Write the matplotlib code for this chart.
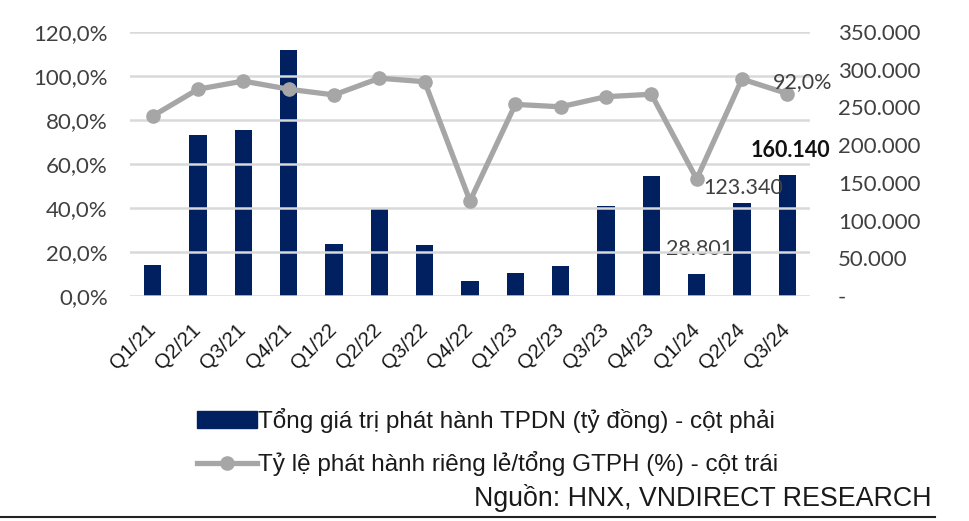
import matplotlib.pyplot as plt
import numpy as np
from matplotlib.lines import Line2D
from matplotlib.ticker import FuncFormatter
from matplotlib.transforms import ScaledTranslation

quarters = ["Q1/21", "Q2/21", "Q3/21", "Q4/21", "Q1/22", "Q2/22", "Q3/22", "Q4/22",
            "Q1/23", "Q2/23", "Q3/23", "Q4/23", "Q1/24", "Q2/24", "Q3/24"]
# total issuance value (ty dong) - right axis
issuance = [41000, 214000, 219600, 326200, 69600, 116200, 67400, 19400,
            30000, 40000, 119300, 158900, 28801, 123340, 160140]
# private placement share (%) - left axis
private_share = [81.8, 94.0, 97.7, 94.0, 91.4, 99.0, 97.4, 43.2,
                 87.1, 86.0, 90.6, 91.7, 53.2, 98.6, 92.0]

bar_label = "Tổng giá trị phát hành TPDN (tỷ đồng) - cột phải"
line_label = "Tỷ lệ phát hành riêng lẻ/tổng GTPH (%) - cột trái"
source = "Nguồn: HNX, VNDIRECT RESEARCH"

NAVY = "#002060"
GREY = "#A6A6A6"
TXT = "#404040"

plt.rcParams['font.family'] = ['Lato', 'DejaVu Sans']

fig = plt.figure(figsize=(9.69, 5.21), dpi=100)
ax = fig.add_axes([130 / 969, 1 - 296 / 521, 680 / 969, 264 / 521])
ax2 = ax.twinx()

x = np.arange(len(quarters))

# bars on right axis, line on left axis (line drawn on top)
ax2.bar(x, issuance, width=0.38, color=NAVY, zorder=2)
ax.set_zorder(ax2.get_zorder() + 1)
ax.patch.set_visible(False)
ax.plot(x, private_share, '-o', color=GREY, lw=3.8, ms=9.5, zorder=3)

ax.set_xlim(-0.5, len(quarters) - 0.5)
ax.set_ylim(0, 120)
ax2.set_ylim(0, 350000)
ax.set_yticks(np.arange(0, 121, 20))
ax2.set_yticks(np.arange(0, 350001, 50000))
ax.yaxis.set_major_formatter(FuncFormatter(lambda v, p: f"{v:.1f}%".replace(".", ",")))
ax2.yaxis.set_major_formatter(FuncFormatter(
    lambda v, p: "-" if v == 0 else f"{int(v):,}".replace(",", ".")))

ax.grid(axis='y', color='#D9D9D9', lw=1.8, zorder=0)
for a in (ax, ax2):
    for s in a.spines.values():
        s.set_visible(False)
    a.tick_params(length=0)
ax.tick_params(axis='y', labelsize=16, labelcolor=TXT, pad=16)
ax2.tick_params(axis='y', labelsize=16, labelcolor=TXT, pad=20)

ax.set_xticks(x)
ax.set_xticklabels(quarters, rotation=45, ha='right', rotation_mode='anchor',
                   fontsize=14.8, family='Liberation Sans', color='#1a1a1a')
ax.tick_params(axis='x', pad=12)
shift = ScaledTranslation(-5 / 72, -5 / 72, fig.dpi_scale_trans)
for lbl in ax.get_xticklabels():
    lbl.set_transform(lbl.get_transform() + shift)

# data labels
ax.annotate("92,0%", (x[-1], private_share[-1]), xytext=(11, 8), textcoords='offset points',
            ha='center', va='center', fontsize=15.5, color=TXT)
ax2.annotate(f"{issuance[-1]:,}".replace(",", "."), (x[-1], issuance[-1]), xytext=(2, 18),
             textcoords='offset points', ha='center', va='center', fontsize=15.5,
             fontweight='bold', color='#111111')
ax2.annotate(f"{issuance[-2]:,}".replace(",", "."), (x[-2], issuance[-2]), xytext=(1, 11),
             textcoords='offset points', ha='center', va='center', fontsize=15.5, color=TXT)
ax2.annotate(f"{issuance[-3]:,}".replace(",", "."), (x[-3], issuance[-3]), xytext=(2, 18),
             textcoords='offset points', ha='center', va='center', fontsize=15.5, color=TXT)

# legend
handles = [plt.Rectangle((0, 0), 1, 1, color=NAVY),
           Line2D([], [], color=GREY, lw=3.8, marker='o', ms=9.5)]
fig.legend(handles, [bar_label, line_label], loc='upper left',
           bbox_to_anchor=(175 / 969, 1 - 386 / 521), frameon=False,
           prop={'family': 'Liberation Sans', 'size': 17.5}, handlelength=2.47,
           handletextpad=0.05, labelspacing=0.76, labelcolor='#1a1a1a')

fig.text(932 / 969, 1 - 498 / 521, source, ha='right', va='center',
         fontsize=19.3, family='Liberation Sans', color='#1a1a1a')
fig.add_artist(Line2D([0, 935 / 969], [1 - 517 / 521] * 2, color='#222222', lw=1.5))

fig.savefig("out.png", dpi=100)
